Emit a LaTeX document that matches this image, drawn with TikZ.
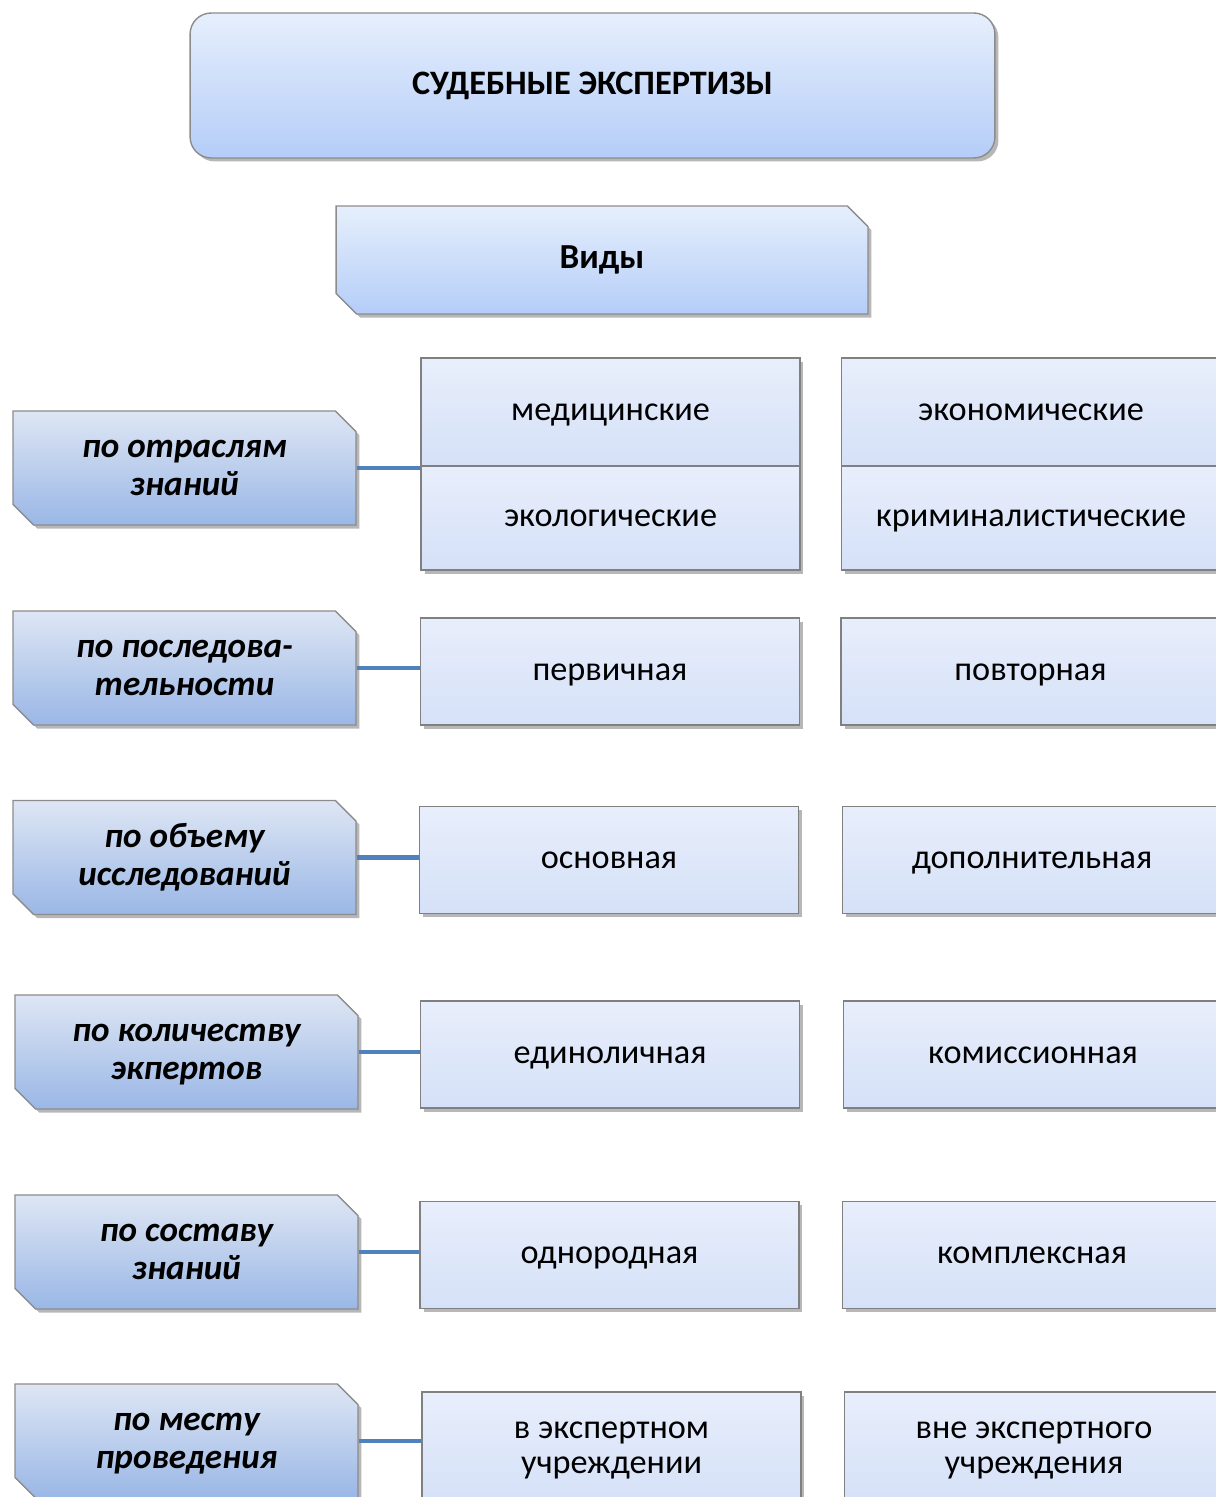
\documentclass[tikz,border=0pt]{standalone}
\usepackage{fontspec}
\setmainfont{Carlito}
\usepackage{xcolor}
\usepackage{tikz}
\usetikzlibrary{positioning, shapes, shapes.misc, calc, shadows}
\definecolor{linkblue}{RGB}{79,129,189}
\definecolor{headtop}{RGB}{230,239,252}
\definecolor{headbot}{RGB}{180,205,248}
\definecolor{grptop}{RGB}{222,230,244}
\definecolor{grpbot}{RGB}{154,183,230}
\definecolor{itemtop}{RGB}{232,238,251}
\definecolor{itembot}{RGB}{213,225,248}
\tikzset{
    shadowed/.style={drop shadow={shadow xshift=2pt, shadow yshift=-2pt, opacity=0.4, fill=black!70}},
    oneline/.style={text height=15pt, text depth=5pt},
    twoline/.style={text height=35pt, text depth=5pt},
    headbox/.style={rectangle, rounded corners=12pt, draw=black!45, thick, top color=headtop, bottom color=headbot, minimum width=16.1cm, minimum height=2.9cm, font=\fontsize{19.5}{23}\selectfont\bfseries, oneline, shadowed},
    kindbox/.style={chamfered rectangle, chamfered rectangle corners={north east, south west}, chamfered rectangle xsep=0.3cm, draw=black!45, thick, top color=headtop, bottom color=headbot, minimum width=10.64cm, minimum height=2.16cm, font=\fontsize{20}{24}\selectfont\bfseries, oneline, shadowed},
    groupbox/.style={chamfered rectangle, chamfered rectangle corners={north east, south west}, chamfered rectangle xsep=0.3cm, draw=black!45, thick, top color=grptop, bottom color=grpbot, minimum width=6.86cm, minimum height=2.28cm, align=center, font=\fontsize{20}{21.5}\selectfont\bfseries\itshape, text height=36.5pt, text depth=5pt, shadowed},
    itembox/.style={rectangle, draw=black!50, thick, top color=itemtop, bottom color=itembot, minimum width=7.58cm, minimum height=2.14cm, align=center, font=\fontsize{19.5}{20}\selectfont, oneline, shadowed},
    link/.style={line width=2.8pt, linkblue},
}

\begin{document}
\begin{tikzpicture}[x=0.02cm, y=-0.02cm]
    \useasboundingbox (0,0) rectangle (1216,1497);
    \node[headbox] (sud) at (592.5,85.5) {СУДЕБНЫЕ ЭКСПЕРТИЗЫ};
    \node[kindbox] (vidy) at (602,260) {Виды};

    % left column
    \node[groupbox] (otrasl) at (184.5,468) {по отраслям\\знаний};
    \node[groupbox] (posled) at (184.5,668) {по последова-\\тельности};
    \node[groupbox] (obem) at (184.5,857.5) {по объему\\исследований};
    \node[groupbox] (kolvo) at (186.5,1052) {по количеству\\экпертов};
    \node[groupbox] (sostav) at (186.5,1252) {по составу\\знаний};
    \node[groupbox] (mesto) at (186.5,1441) {по месту\\проведения};

    % items
    \node[itembox, minimum height=2.16cm] (med) at (610.5,412) {медицинские};
    \node[itembox, minimum height=2.08cm] (ekol) at (610.5,518) {экологические};
    \node[itembox, minimum height=2.16cm] (ekon) at (1031,412) {экономические};
    \node[itembox, minimum height=2.08cm] (krim) at (1031,518) {криминалистические};
    \node[itembox] (perv) at (610,671.5) {первичная};
    \node[itembox] (povt) at (1030.5,671.5) {повторная};
    \node[itembox] (osn) at (609,860) {основная};
    \node[itembox] (dop) at (1032,860) {дополнительная};
    \node[itembox] (edin) at (610,1054.5) {единоличная};
    \node[itembox] (komis) at (1033,1054.5) {комиссионная};
    \node[itembox] (odnor) at (609.5,1255) {однородная};
    \node[itembox] (kompl) at (1032,1255) {комплексная};
    \node[itembox, twoline, minimum height=2.2cm] (vexp) at (611.5,1447) {в экспертном\\учреждении};
    \node[itembox, twoline, minimum height=2.2cm] (vneexp) at (1034,1447) {вне экспертного\\учреждения};

    % links
    \draw[link] (otrasl.east) -- (otrasl.east -| med.west);
    \draw[link] (posled.east) -- (posled.east -| perv.west);
    \draw[link] (obem.east) -- (obem.east -| osn.west);
    \draw[link] (kolvo.east) -- (kolvo.east -| edin.west);
    \draw[link] (sostav.east) -- (sostav.east -| odnor.west);
    \draw[link] (mesto.east) -- (mesto.east -| vexp.west);
\end{tikzpicture}
\end{document}
